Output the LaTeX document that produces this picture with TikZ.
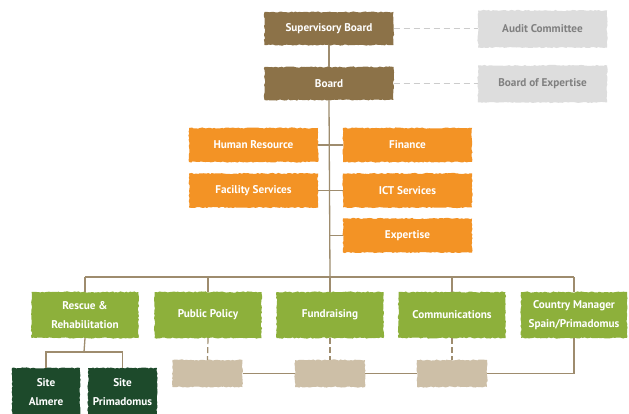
\documentclass[tikz,border=0pt]{standalone}
\usepackage{fontspec}
\setsansfont{PT Sans}
\usetikzlibrary{decorations.pathmorphing}
\definecolor{brownbox}{HTML}{8C7248}
\definecolor{graybox}{HTML}{DDDDDD}
\definecolor{graytext}{HTML}{808080}
\definecolor{orangebox}{HTML}{F39325}
\definecolor{greenbox}{HTML}{8DB03B}
\definecolor{darkgreen}{HTML}{1D4A2B}
\definecolor{tanbox}{HTML}{CDBFA7}
\definecolor{linecol}{HTML}{9E8C6E}
\definecolor{dashgray}{HTML}{CCCCCC}
\begin{document}
\begin{tikzpicture}[x=1pt,y=-1pt,
  box/.style={rectangle, inner sep=0pt, text=white, align=center,
    font=\sffamily\bfseries\fontsize{11.2}{18.5}\selectfont,
    decorate, decoration={random steps,segment length=2pt,amplitude=0.6pt}},
  brownb/.style={box, fill=brownbox, minimum width=129pt, minimum height=33pt},
  grayb/.style={box, fill=graybox, text=graytext, minimum width=129pt, minimum height=37pt},
  orangeb/.style={box, fill=orangebox, minimum width=129pt, minimum height=34pt},
  greenb/.style={box, fill=greenbox, minimum width=107pt, minimum height=46pt},
  tanb/.style={box, fill=tanbox, minimum width=70pt, minimum height=27pt},
  dgreenb/.style={box, fill=darkgreen, minimum width=68pt, minimum height=48pt},
  conn/.style={draw=linecol, line width=1.3pt},
  dconn/.style={draw=dashgray, line width=1pt, dash pattern=on 6pt off 4pt},
  tconn/.style={draw=linecol, line width=1.2pt, dash pattern=on 6pt off 3pt}
]
\clip (0,0) rectangle (629,414);
\fill[white] (0,0) rectangle (629,414);

% coordinates
\coordinate (hl) at (330,277);
\coordinate (rj) at (84,352);

% top
\node[brownb] (sb) at (329,28.5) {Supervisory Board};
\node[grayb] (ac) at (542.5,29) {Audit Committee};
\node[brownb] (bd) at (329,83.5) {Board};
\node[grayb] (be) at (542.5,84) {Board of Expertise};

% staff
\node[orangeb] (hr) at (253.5,145) {Human Resource};
\node[orangeb] (fi) at (407.5,145) {Finance};
\node[orangeb] (fs) at (253.5,190.5) {Facility Services};
\node[orangeb] (ict) at (407.5,190.5) {ICT Services};
\node[orangeb] (ex) at (407.5,235.5) {Expertise};

% departments
\node[greenb] (rr) at (85,315) {Rescue \&\\Rehabilitation};
\node[greenb] (pp) at (208,315) {Public Policy};
\node[greenb] (fu) at (330,315) {Fundraising};
\node[greenb] (co) at (452,315) {Communications};
\node[greenb, minimum width=106pt] (cm) at (574,315) {Country Manager\\Spain/Primadomus};

% tan
\node[tanb] (t1) at (207.5,373.5) {};
\node[tanb] (t2) at (330,373.5) {};
\node[tanb] (t3) at (452,373.5) {};

% sites
\node[dgreenb] (sa) at (46,392) {Site\\Almere};
\node[dgreenb, minimum width=69pt] (sp) at (122.5,392) {Site\\Primadomus};

% connectors
\path[dconn] (sb.east) -- (ac.west |- sb.east);
\path[dconn] (bd.east) -- (be.west |- bd.east);
\path[conn] (sb.south) -- (bd.north);
\path[conn] (bd.south) -- (hl);
\path[conn] (hr.east) -- (fi.west);
\path[conn] (fs.east) -- (ict.west);
\path[conn] (ex.west) -- (ex.west -| hl);
\path[conn] (rr.north |- hl) -- (cm.north |- hl);
\path[conn] (rr.north |- hl) -- (rr.north);
\path[conn] (pp.north |- hl) -- (pp.north);
\path[conn] (fu.north |- hl) -- (fu.north);
\path[conn] (co.north |- hl) -- (co.north);
\path[conn] (cm.north |- hl) -- (cm.north);
\path[tconn] (pp.south) -- (t1.north);
\path[tconn] (fu.south) -- (t2.north);
\path[tconn] (co.south) -- (t3.north);
\path[conn] (t1.east) -- (t2.west);
\path[conn] (t2.east) -- (t3.west);
\path[conn] (t3.east) -| (cm.south);
\path[conn] (rr.south) -- (rj);
\path[conn] (sa.north) |- (rj) -| (sp.north);
\end{tikzpicture}
\end{document}
